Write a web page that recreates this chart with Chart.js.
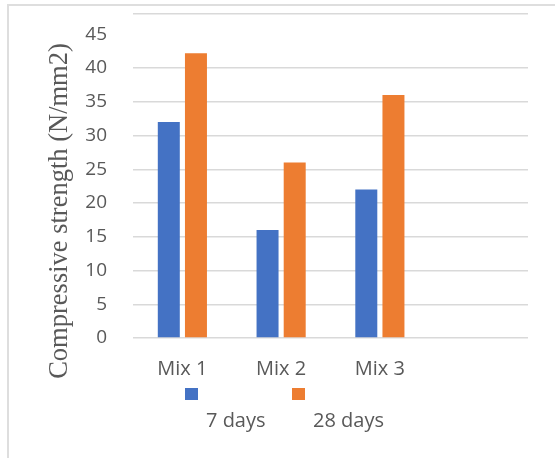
<!DOCTYPE html>
<html>
<head>
<meta charset="utf-8">
<script src="https://cdn.jsdelivr.net/npm/chart.js@4"></script>
<style>
  body { margin: 0; background: #fff; overflow: hidden; }
  #frame { position: absolute; left: 7px; top: 4px; width: 600px; height: 460px;
           border-left: 2px solid #dedede; border-top: 2px solid #dedede; }
  #wrap { position: absolute; left: 0; top: 0; width: 555px; height: 458px; }
</style>
</head>
<body>
<div id="frame"></div>
<div id="wrap"><canvas id="canvas"></canvas></div>
<script>
const categories = ['Mix 1', 'Mix 2', 'Mix 3', '']
const seriesLabels = ['7 days', '28 days']
const days7 = [32, 16, 22, null]
const days28 = [42.2, 26, 36, null]
const yTicks = [0, 5, 10, 15, 20, 25, 30, 35, 40, 45]
const yTop = 48
const yTitle = 'Compressive strength (N/mm2)'

const gray = '#595959'

// y title is drawn by hand because it sits lower than the axis centre
const yTitlePlugin = {
    id: 'yTitle',
    afterDraw(chart) {
        const ctx = chart.ctx
        ctx.save()
        ctx.translate(60, 211)
        ctx.rotate(-Math.PI / 2)
        ctx.font = '26.5px "Liberation Serif", "Times New Roman", serif'
        ctx.fillStyle = gray
        ctx.textAlign = 'center'
        ctx.textBaseline = 'middle'
        ctx.fillText(yTitle, 0, 0)
        ctx.restore()
    }
}

// legend: box on one row, label below and to the right
const legendPlugin = {
    id: 'oddLegend',
    afterDraw(chart) {
        const ctx = chart.ctx
        const startX = [185, 292]
        ctx.save()
        chart.data.datasets.forEach((ds, i) => {
            ctx.fillStyle = ds.backgroundColor
            ctx.fillRect(startX[i], 388, 13, 12)
            ctx.fillStyle = gray
            ctx.font = '20px "Open Sans", sans-serif'
            ctx.textBaseline = 'middle'
            ctx.textAlign = 'left'
            ctx.fillText(ds.label, startX[i] + 21, 421)
        })
        ctx.restore()
    }
}

new Chart(document.getElementById('canvas'), {
    type: 'bar',
    data: {
        labels: categories,
        datasets: [
            {
                label: seriesLabels[0],
                data: days7,
                backgroundColor: '#4472C4',
                categoryPercentage: 0.55,
                barPercentage: 0.81
            },
            {
                label: seriesLabels[1],
                data: days28,
                backgroundColor: '#ED7D31',
                categoryPercentage: 0.55,
                barPercentage: 0.81
            }
        ]
    },
    options: {
        responsive: true,
        maintainAspectRatio: false,
        animation: false,
        layout: { padding: { top: 14, right: 27, left: 0, bottom: 0 } },
        plugins: {
            legend: { display: false },
            tooltip: { enabled: false }
        },
        scales: {
            x: {
                grid: { display: false, drawTicks: false },
                border: { display: false },
                ticks: {
                    color: gray,
                    padding: 19,
                    font: { family: '"Open Sans", sans-serif', size: 20 }
                },
                afterFit: (scale) => { scale.height = 120 }
            },
            y: {
                min: 0,
                max: yTop,
                border: { display: false },
                grid: {
                    drawTicks: true,
                    tickLength: 26,
                    tickColor: 'rgba(0,0,0,0)',
                    lineWidth: 1.5,
                    color: (c) => (c.tick && c.tick.value === 45) ? 'rgba(0,0,0,0)' : '#d9d9d9'
                },
                ticks: {
                    color: gray,
                    padding: 0,
                    font: { family: '"Open Sans", sans-serif', size: 19 },
                    callback: (v) => yTicks.includes(v) ? v : ''
                },
                afterBuildTicks: (scale) => {
                    scale.ticks = yTicks.concat([yTop]).map(v => ({ value: v }))
                },
                afterFit: (scale) => { scale.width = 133 }
            }
        }
    },
    plugins: [yTitlePlugin, legendPlugin]
})
</script>
</body>
</html>
